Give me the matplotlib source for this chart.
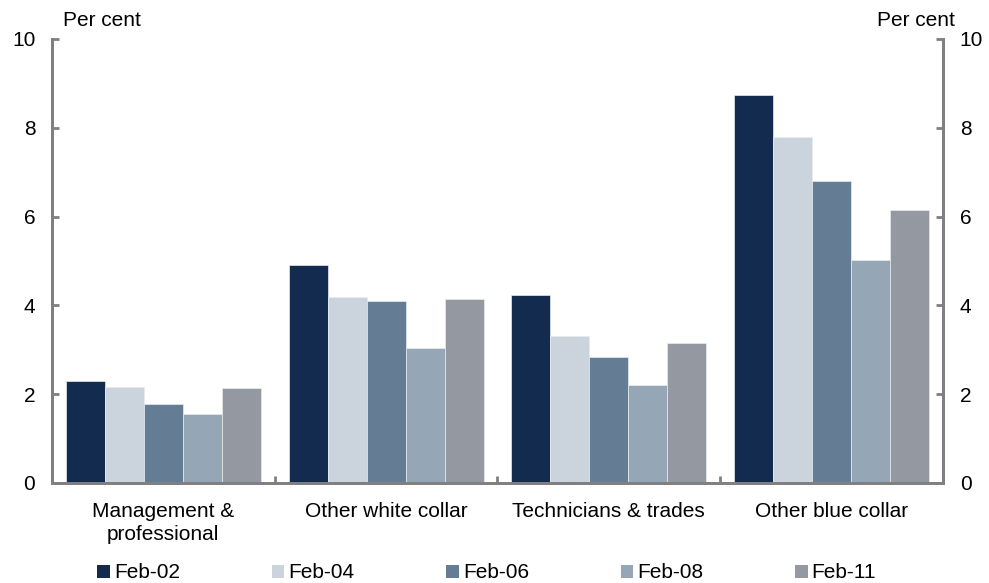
import numpy as np
import matplotlib
matplotlib.use('Agg')
from matplotlib import pyplot as plt
from matplotlib.patches import Patch

plt.rcParams['font.family'] = ['Liberation Sans', 'DejaVu Sans']

categories = ['Management &\nprofessional', 'Other white collar',
              'Technicians & trades', 'Other blue collar']
series_names = ['Feb-02', 'Feb-04', 'Feb-06', 'Feb-08', 'Feb-11']
feb02 = [2.30, 4.91, 4.23, 8.74]
feb04 = [2.16, 4.19, 3.31, 7.80]
feb06 = [1.79, 4.11, 2.83, 6.80]
feb08 = [1.55, 3.05, 2.21, 5.02]
feb11 = [2.15, 4.14, 3.15, 6.15]
yticks = [0, 2, 4, 6, 8, 10]

series = [feb02, feb04, feb06, feb08, feb11]
colors = ['#132b4f', '#cbd3dd', '#647d95', '#95a7b7', '#9498a0']
axis_grey = '#808080'
fs = 15

fig = plt.figure(figsize=(9.89, 5.83), dpi=100)
ax = fig.add_axes([52/989, 1 - 483/583, (943 - 52)/989, (483 - 39)/583])

x = np.arange(len(categories))
width = 0.175
offsets = (np.arange(len(series)) - 2) * width
for vals, off, col in zip(series, offsets, colors):
    ax.bar(x + off, vals, width, color=col, edgecolor='#e8ecf0', linewidth=0.5)

ax.set_xlim(-0.5, len(categories) - 0.5)
ax.set_ylim(0, 10)
ax.set_yticks(yticks)
# category boundaries get the tick marks, names sit on minor ticks
ax.set_xticks(np.arange(-0.5, len(categories)), minor=False)
ax.set_xticklabels([])
ax.set_xticks(x, minor=True)
ax.set_xticklabels(categories, minor=True, fontsize=fs, linespacing=1.25)
ax.tick_params(axis='x', which='minor', length=0, pad=14)
ax.tick_params(axis='x', which='major', direction='in', length=5, width=2,
               color=axis_grey)
ax.tick_params(axis='y', direction='in', length=5, width=2, color=axis_grey,
               labelsize=fs, pad=12)

ax2 = ax.twinx()
ax2.set_ylim(0, 10)
ax2.set_yticks(yticks)
ax2.tick_params(axis='y', direction='in', length=5, width=2, color=axis_grey,
                labelsize=fs, pad=12)

for a in (ax, ax2):
    a.spines['top'].set_visible(False)
    for s in ('left', 'right', 'bottom'):
        a.spines[s].set_color(axis_grey)
        a.spines[s].set_linewidth(2)

fig.text(63/989, 1 - 20/583, 'Per cent', fontsize=fs, va='center', ha='left')
fig.text(955/989, 1 - 20/583, 'Per cent', fontsize=fs, va='center', ha='right')

handles = [Patch(facecolor=c, edgecolor='none') for c in colors]
fig.legend(handles, series_names, loc='center left', ncol=5,
           bbox_to_anchor=(89/989, 1 - 573/583), frameon=False, fontsize=fs,
           handlelength=0.6, handleheight=0.6, handletextpad=0.2,
           columnspacing=4.4, borderaxespad=0)

fig.savefig('out.png', dpi=100)
